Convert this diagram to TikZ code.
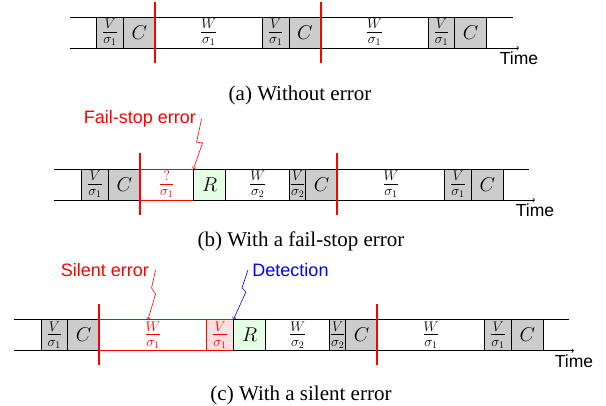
\RequirePackage{fix-cm}
\documentclass[tikz,border=0pt]{standalone}
\usepackage[no-math]{fontspec}
\setmainfont{Liberation Serif}
\setsansfont{Liberation Sans}
\usetikzlibrary{positioning}

\begin{document}
\begin{tikzpicture}[
    x=1pt, y=-1pt,
    node distance=0pt,
    seg/.style={rectangle, draw, line width=0.7pt, inner sep=0pt, outer sep=0pt, minimum height=31pt, font=\fontsize{20}{24}\selectfont},
    ver/.style={seg, fill=gray!40, minimum width=26.7pt},
    ver2/.style={seg, fill=gray!40, minimum width=16pt},
    ckpt/.style={seg, fill=gray!40, minimum width=31.7pt},
    rec/.style={seg, fill=green!10, minimum width=32.3pt},
    work/.style={seg, minimum width=107.3pt},
    work2/.style={seg, minimum width=64pt},
    lost/.style={draw=red, text=red},
    timeline/.style={line width=0.7pt},
    cut/.style={draw=red, line width=2pt},
    timelbl/.style={below, font=\sffamily\fontsize{17.5}{20}\selectfont},
    errlbl/.style={font=\sffamily\fontsize{18}{21}\selectfont},
    hit/.style={->, line width=0.6pt},
    caption/.style={font=\fontsize{21}{25}\selectfont}
]
\useasboundingbox (0,0) rectangle (606,406);

% (a) without error
\coordinate (a0) at (70,17); \coordinate (a1) at (513,17);
\coordinate (a2) at (70,48); \coordinate (a3) at (519,48);
\draw[timeline] (a0) -- (a1);
\draw[timeline, ->] (a2) -- (a3) node[timelbl] {Time};
\node[ver, anchor=west] (av1) at (96.7,32.5) {$\frac{V}{\sigma_1}$};
\node[ckpt, right=of av1] (ac1) {$C$};
\node[work, right=of ac1] (aw1) {$\frac{W}{\sigma_1}$};
\node[ver, right=of aw1] (av2) {$\frac{V}{\sigma_1}$};
\node[ckpt, right=of av2] (ac2) {$C$};
\node[work, right=of ac2] (aw2) {$\frac{W}{\sigma_1}$};
\node[ver, right=of aw2] (av3) {$\frac{V}{\sigma_1}$};
\node[ckpt, right=of av3] (ac3) {$C$};
\node[caption] (capa) at (300,95) {(a) Without error};

% (b) with a fail-stop error
\coordinate (b0) at (54.3,169); \coordinate (b1) at (529.3,169);
\coordinate (b2) at (54.3,200); \coordinate (b3) at (535,200);
\draw[timeline] (b0) -- (b1);
\draw[timeline, ->] (b2) -- (b3) node[timelbl] {Time};
\node[ver, anchor=west] (bv1) at (81.7,184.5) {$\frac{V}{\sigma_1}$};
\node[ckpt, right=of bv1] (bc1) {$C$};
\node[seg, lost, minimum width=53.3pt, right=of bc1] (bq) {$\frac{?}{\sigma_1}$};
\node[rec, right=of bq] (br) {$R$};
\node[work2, right=of br] (bw2) {$\frac{W}{\sigma_2}$};
\node[ver2, right=of bw2] (bv2) {$\frac{V}{\sigma_2}$};
\node[ckpt, right=of bv2] (bc2) {$C$};
\node[work, right=of bc2] (bw1) {$\frac{W}{\sigma_1}$};
\node[ver, right=of bw1] (bv3) {$\frac{V}{\sigma_1}$};
\node[ckpt, right=of bv3] (bc3) {$C$};
\node[caption] (capb) at (301,241.5) {(b) With a fail-stop error};

% (c) with a silent error
\coordinate (c0) at (14,319.3); \coordinate (c1) at (569.3,319.3);
\coordinate (c2) at (14,350.7); \coordinate (c3) at (574,350.7);
\draw[timeline] (c0) -- (c1);
\draw[timeline, ->] (c2) -- (c3) node[timelbl] {Time};
\node[ver, anchor=west] (cv1) at (41,335) {$\frac{V}{\sigma_1}$};
\node[ckpt, right=of cv1] (cc1) {$C$};
\node[work, lost, right=of cc1] (cw) {$\frac{W}{\sigma_1}$};
\node[ver, lost, fill=red!12, right=of cw] (cv) {$\frac{V}{\sigma_1}$};
\node[rec, right=of cv] (cr) {$R$};
\node[work2, right=of cr] (cw2) {$\frac{W}{\sigma_2}$};
\node[ver2, right=of cw2] (cv2) {$\frac{V}{\sigma_2}$};
\node[ckpt, right=of cv2] (cc2) {$C$};
\node[work, right=of cc2] (cw1) {$\frac{W}{\sigma_1}$};
\node[ver, right=of cw1] (cv3) {$\frac{V}{\sigma_1}$};
\node[ckpt, right=of cv3] (cc3) {$C$};
\node[caption] (capc) at (301,395) {(c) With a silent error};

% checkpoints taken
\draw[cut]
    ([yshift=15pt]ac1.north east) -- ([yshift=-15pt]ac1.south east)
    ([yshift=15pt]ac2.north east) -- ([yshift=-15pt]ac2.south east)
    ([yshift=16pt]bc1.north east) -- ([yshift=-15pt]bc1.south east)
    ([yshift=16pt]bc2.north east) -- ([yshift=-15pt]bc2.south east)
    ([yshift=15pt]cc1.north east) -- ([yshift=-15pt]cc1.south east)
    ([yshift=15pt]cc2.north east) -- ([yshift=-15pt]cc2.south east);

% errors
\node[errlbl, text=red] (fs) at (140,119) {Fail-stop error};
\draw[hit, draw=red] ([xshift=2pt]fs.east) -- ++(-5,23) -- ++(6,1) -- (bq.north east);
\node[errlbl, text=red] (se) at (105,270) {Silent error};
\draw[hit, draw=red] ([xshift=3pt]se.east) -- ++(-4,18) -- ++(4,6) -- ([xshift=-5pt]cw.north);
\node[errlbl, text=blue] (det) at (290.5,270) {Detection};
\draw[hit, draw=blue] ([xshift=-1pt]det.west) -- ++(-6,18) -- ++(4,4) -- (cv.north east);
\end{tikzpicture}
\end{document}
